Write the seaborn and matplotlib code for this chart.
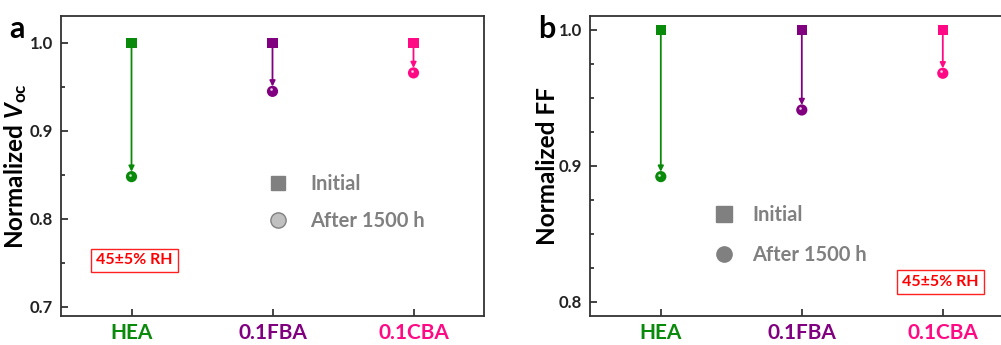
import numpy as np
import pandas as pd
import matplotlib
matplotlib.use("Agg")
import matplotlib.pyplot as plt
import seaborn as sns
from matplotlib.path import Path
from matplotlib.markers import MarkerStyle
from matplotlib.lines import Line2D
from matplotlib.ticker import MultipleLocator

# ---- data ----
categories = ["HEA", "0.1FBA", "0.1CBA"]
colors = ["#0a8a0a", "#800080", "#ff0a84"]
voc_initial = [1.0, 1.0, 1.0]
voc_after = [0.848, 0.945, 0.966]
ff_initial = [1.0, 1.0, 1.0]
ff_after = [0.892, 0.941, 0.968]
legend_labels = ["Initial", "After 1500 h"]
rh_text = "45\u00b15% RH"

sns.set_theme(style="white")
plt.rcParams["font.family"] = ["Lato", "DejaVu Sans"]
plt.rcParams["font.weight"] = "bold"
plt.rcParams["mathtext.fontset"] = "custom"
plt.rcParams["mathtext.rm"] = "Lato:bold"
plt.rcParams["mathtext.it"] = "Lato:italic:bold"
plt.rcParams["mathtext.bf"] = "Lato:bold"
plt.rcParams["mathtext.bfit"] = "Lato:italic:bold"

fig = plt.figure(figsize=(10.01, 3.45), dpi=100)
ax_a = fig.add_axes([61 / 1001, 29 / 345, 423 / 1001, 300 / 345])
ax_b = fig.add_axes([590.3 / 1001, 29 / 345, 423 / 1001, 300 / 345])

hl = Path.circle(center=(-0.3, 0.3), radius=0.2)
highlight = MarkerStyle(hl)


def draw(ax, init, after, ylim, major, minor, ylabel, label_x):
    df_i = pd.DataFrame({"cat": categories, "val": init})
    df_a = pd.DataFrame({"cat": categories, "val": after})
    pal = dict(zip(categories, colors))
    # arrows
    for i, (y0, y1) in enumerate(zip(init, after)):
        ax.annotate("", xy=(i, y1), xytext=(i, y0),
                    arrowprops=dict(arrowstyle="-|>", color=colors[i], lw=1.3,
                                    shrinkA=3, shrinkB=3.5, mutation_scale=8),
                    zorder=2)
    sns.scatterplot(data=df_i, x="cat", y="val", hue="cat", palette=pal,
                    marker="s", s=55, linewidth=0, legend=False, ax=ax, zorder=3)
    sns.scatterplot(data=df_a, x="cat", y="val", hue="cat", palette=pal,
                    marker="o", s=65, linewidth=0, legend=False, ax=ax, zorder=3)
    sns.scatterplot(data=df_a, x="cat", y="val", color="white", marker=highlight,
                    s=22, linewidth=0, legend=False, ax=ax, zorder=4, alpha=0.8)
    ax.set_xlim(-0.5, 2.5)
    ax.set_ylim(*ylim)
    ax.yaxis.set_major_locator(MultipleLocator(major))
    ax.yaxis.set_minor_locator(MultipleLocator(minor))
    ax.yaxis.set_major_formatter(matplotlib.ticker.FormatStrFormatter("%.1f"))
    ax.tick_params(axis="y", which="major", direction="in", length=5, width=1.2,
                   left=True, labelsize=12, colors="#222222", pad=6)
    ax.tick_params(axis="y", which="minor", direction="in", length=3, width=1.2,
                   left=True, colors="#222222")
    ax.tick_params(axis="x", which="major", direction="in", length=5, width=1.2,
                   bottom=True, labelsize=15, pad=5)
    ax.set_xlabel("")
    ax.set_ylabel(ylabel, fontsize=17.5, fontweight="bold", color="black")
    ax.yaxis.set_label_coords(label_x, 0.5)
    for lab, c in zip(ax.get_xticklabels(), colors):
        lab.set_color(c)
        lab.set_fontweight("bold")
    for lab in ax.get_yticklabels():
        lab.set_fontweight("bold")
    for sp in ax.spines.values():
        sp.set_color("#333333")
        sp.set_linewidth(1.3)


draw(ax_a, voc_initial, voc_after, (0.6895, 1.0307), 0.1, 0.05,
     r"Normalized $\mathbfit{V}_{\mathrm{oc}}$", (29 - 61) / 423)
draw(ax_b, ff_initial, ff_after, (0.7895, 1.0101), 0.1, 0.025, "Normalized FF",
     (559 - 590.3) / 423)

# legends
h_a = [Line2D([], [], ls="none", marker="s", ms=10, mfc="#808080", mec="#808080"),
       Line2D([], [], ls="none", marker="o", ms=11, mfc="#c0c0c0", mec="#808080", mew=1)]
leg_a = ax_a.legend(h_a, legend_labels, loc="upper left", bbox_to_anchor=(0.446, 0.535),
                    frameon=False, fontsize=14.5, handletextpad=1.1, labelspacing=0.85,
                    handlelength=1.0)
for t in leg_a.get_texts():
    t.set_color("#808080")
    t.set_fontweight("bold")

h_b = [Line2D([], [], ls="none", marker="s", ms=11, mfc="#808080", mec="#808080"),
       Line2D([], [], ls="none", marker="o", ms=11, mfc="#808080", mec="#808080")]
leg_b = ax_b.legend(h_b, legend_labels, loc="upper left", bbox_to_anchor=(0.25, 0.43),
                    frameon=False, fontsize=14.5, handletextpad=0.9, labelspacing=1.0,
                    handlelength=1.0)
for t in leg_b.get_texts():
    t.set_color("#808080")
    t.set_fontweight("bold")

# RH boxes
box = dict(boxstyle="square,pad=0.3", fc="white", ec="#ff2020", lw=1.0)
ax_a.text((134.5 - 61) / 423, (316 - 260.5) / 300, rh_text, transform=ax_a.transAxes,
          ha="center", va="center", fontsize=11.5, fontweight="bold", color="#ff0000", bbox=box)
ax_b.text((940.5 - 590.3) / 423, (316 - 282) / 300, rh_text, transform=ax_b.transAxes,
          ha="center", va="center", fontsize=11.5, fontweight="bold", color="#ff0000", bbox=box)

# panel labels
fig.text(9 / 1001, 1 - 38 / 345, "a", fontsize=22, fontweight="bold", color="black")
fig.text(538 / 1001, 1 - 38 / 345, "b", fontsize=22, fontweight="bold", color="black")

fig.savefig("out.png", dpi=100)
